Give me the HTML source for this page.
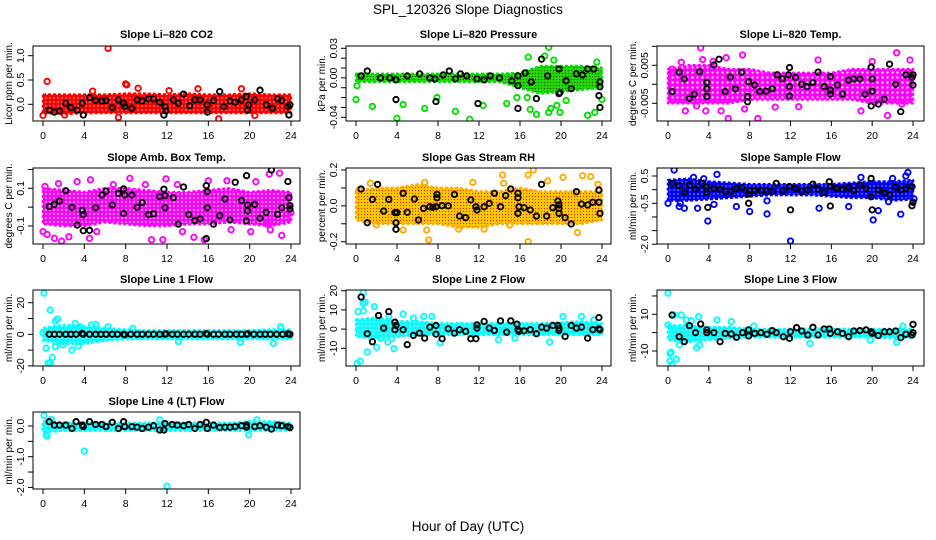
<!DOCTYPE html>
<html><head><meta charset="utf-8">
<style>
html,body{margin:0;padding:0;background:#fff;}
svg{display:block;font-family:"Liberation Sans",sans-serif;}
</style></head>
<body>
<svg id="chart" width="936" height="540" viewBox="0 0 936 540" xmlns="http://www.w3.org/2000/svg">
<rect width="936" height="540" fill="#fff"/>
<text x="468" y="14" text-anchor="middle" font-size="13.5">SPL_120326  Slope Diagnostics</text>
<text x="468" y="531" text-anchor="middle" font-size="13.5">Hour of Day (UTC)</text>
</svg>
<script>
const bandHours = [0,2,4,6,8,10,12,14,16,18,20,22,24];
const xTicks = [0,4,8,12,16,20,24];

const co2Hi = [0.2,0.2,0.2,0.2,0.22,0.22,0.2,0.22,0.2,0.2,0.22,0.2,0.2];
const co2Lo = [-0.18,-0.2,-0.18,-0.18,-0.18,-0.18,-0.18,-0.18,-0.18,-0.18,-0.18,-0.18,-0.18];
const co2Out = [[6.3,1.15],[0.4,0.47],[8,0.42],[8.1,0.4],[9.2,0.33],[15,0.32],[19.2,0.32],[0,-0.23],[7.3,-0.27],[17,-0.3],[20.5,-0.23],[2.1,-0.22],[4.8,0.27],[12.2,0.28]];
const co2Black = [[0.6,-0.12],[1.1,-0.16],[1.6,-0.14],[2.2,0.02],[2.7,-0.07],[3.3,-0.12],[3.8,0.02],[3.9,-0.22],[4.5,0.14],[5.1,0.08],[5.7,0.07],[6.1,0.08],[6.7,-0.07],[7.3,0.09],[7.8,0.02],[7.9,-0.05],[8.6,-0.08],[9.1,0.09],[9.6,0.07],[10.2,0.11],[10.7,0.11],[11.3,0.04],[11.8,-0.05],[11.7,-0.22],[11.9,-0.14],[12.6,0.09],[13.1,0.02],[13.6,0.21],[14.2,-0.03],[14.7,0.09],[15.2,0.09],[15.9,-0.01],[15.9,-0.16],[16.5,0.08],[17.1,0.26],[17.5,-0.05],[18.1,0.07],[18.6,0.04],[19.2,0.09],[19.7,0.16],[19.8,-0.12],[19.9,-0.01],[20.5,0.09],[21,0.29],[21.6,-0.01],[22.2,-0.08],[22.7,0.11],[23.1,0.08],[23.7,-0.05],[23.8,-0.22],[23.9,-0.01]];

const presHi = [0.004,0.004,0.004,0.004,0.004,0.004,0.004,0.004,0.005,0.012,0.012,0.012,0.01];
const presLo = [-0.004,-0.004,-0.004,-0.004,-0.004,-0.004,-0.004,-0.004,-0.01,-0.016,-0.014,-0.012,-0.01];
const presOut = [[0,-0.022],[1.6,-0.029],[4,-0.041],[4.6,-0.027],[6.7,-0.031],[9.7,-0.034],[11.1,-0.042],[12.4,-0.028],[14.7,-0.026],[18.8,0.031],[18.4,0.022],[19.3,0.018],[16.8,0.021],[17,-0.032],[17.6,-0.037],[18.8,-0.035],[19,-0.031],[19.6,-0.028],[19.9,-0.035],[20.5,-0.023],[22.6,-0.038],[23.3,-0.035],[23.5,0.016],[24,-0.022],[15.7,-0.02],[16.7,-0.02],[0.1,-0.008],[7.9,-0.02]];
const presBlack = [[0.5,0.002],[1.1,0.007],[2.4,0],[3.3,0],[3.9,-0.022],[3.9,-0.002],[5,0.002],[6.2,0.004],[7.2,0],[7.7,-0.001],[7.8,-0.024],[8.5,0.003],[9.1,0.007],[9.7,-0.001],[10.2,0.004],[10.8,0.002],[11.8,-0.001],[11.9,-0.026],[12.5,-0.002],[13.1,0.002],[14,0],[15.2,-0.003],[15.8,0.002],[15.8,-0.008],[15.8,-0.031],[16.5,0.005],[17.1,-0.004],[17.6,-0.021],[18.1,0.019],[18.7,0.002],[19.8,0.009],[19.8,-0.016],[19.9,-0.015],[20.5,-0.003],[21,-0.011],[21.5,0.004],[22.1,0.003],[22.6,0.009],[23.2,0.009],[23.8,-0.004],[23.8,-0.009],[23.7,-0.018],[23.8,-0.03]];

const ltHi = [0.004,0.005,0.005,0.004,0.004,0.003,0.003,0.003,0.003,0.004,0.004,0.004,0.004];
const ltLo = [-0.005,-0.005,-0.005,-0.005,-0.004,-0.004,-0.004,-0.004,-0.004,-0.004,-0.005,-0.005,-0.005];
const ltOut = [[3.2,0.0096],[1.7,-0.007],[2.8,-0.0057],[3.7,-0.007],[5.2,-0.007],[5.9,-0.009],[7.5,-0.0065],[8.8,-0.009],[7.3,0.0077],[1.3,0.0058],[14.7,0.0064],[18.9,-0.007],[21.5,-0.0082],[22.4,0.0083],[23.7,0.0064],[22.9,-0.0052],[12.8,-0.0059],[10.5,-0.006],[3.4,0.0065],[5.7,0.007],[0.4,0.004],[4.4,0.006],[20,0.006]];
const ltBlack = [[0.4,-0.0019],[1.1,0.0032],[1.6,0.0014],[2.1,-0.0037],[2.6,-0.0026],[3.1,0.0033],[3.8,0.0005],[3.8,-0.0012],[3.8,-0.0032],[4.5,0.0051],[5,0.0066],[5.6,-0.0019],[6.1,0.0019],[6.6,-0.0012],[7.2,0.0032],[7.9,0.0007],[7.8,-0.0032],[7.8,-0.0046],[8.5,-0.0002],[9,-0.0019],[9.6,-0.0018],[10.2,-0.0012],[10.7,0.0025],[11.2,0.0014],[11.8,0.0025],[11.9,0.0044],[11.9,-0.0006],[11.9,-0.0031],[12.5,0.0018],[13.1,0],[13.6,-0.0006],[14.2,0.0005],[14.7,0.0032],[15.3,-0.0006],[15.9,0.002],[15.9,-0.0015],[15.9,-0.0026],[16.6,-0.0002],[17.1,-0.0026],[17.7,0.0011],[18.2,0.0014],[18.8,0.0014],[19.3,-0.0026],[19.9,0.0045],[20,0.0014],[20,-0.0018],[19.9,-0.0057],[20.6,-0.0052],[21.2,-0.0039],[21.7,0.0053],[22.3,0],[22.8,-0.0072],[23.3,0.0025],[23.9,0.0018],[24,0.0025],[24,-0.0002]];

const boxHi = [0.1,0.09,0.08,0.1,0.1,0.09,0.08,0.08,0.09,0.1,0.08,0.09,0.08];
const boxLo = [-0.09,-0.1,-0.1,-0.08,-0.09,-0.1,-0.1,-0.09,-0.09,-0.08,-0.09,-0.1,-0.08];
const boxOut = [[0,-0.13],[0.4,-0.145],[1.1,-0.165],[1.8,-0.18],[2.5,-0.157],[3.3,0.135],[4.6,0.145],[4.5,-0.165],[5.2,-0.13],[8.4,0.153],[10.5,-0.173],[11.9,0.15],[11.6,-0.173],[13.5,-0.13],[15.6,-0.173],[16,0.14],[17.8,0.14],[20.1,-0.13],[20.6,0.135],[21.9,0.175],[22.9,0.18],[23.1,-0.15],[21.7,-0.09],[14.6,-0.16],[0.2,0.11],[1.5,0.125],[6.8,0.12],[9.9,0.12],[13,0.12],[18.2,-0.12],[22,-0.12],[24,-0.03]];
const boxBlack = [[0.6,0.003],[1.1,0.015],[1.6,0.033],[2.2,0.087],[2.8,-0.001],[3.3,-0.095],[3.8,-0.017],[3.9,-0.04],[3.9,-0.125],[4.5,-0.123],[5.1,-0.003],[5.7,0.064],[6.1,0.085],[6.7,0.012],[7.3,0.073],[7.8,-0.033],[7.8,0.097],[7.9,0.064],[8.6,0.064],[9.1,-0.001],[9.6,0.024],[10.2,-0.04],[10.7,-0.035],[11.3,0.056],[11.7,0.095],[11.8,0.061],[11.8,-0.003],[12.6,0.05],[13.1,-0.09],[13.6,0.107],[14.1,-0.04],[14.7,-0.07],[15.2,-0.063],[15.8,0.114],[15.9,0.082],[15.9,-0.003],[15.8,-0.167],[16.5,-0.09],[17.1,-0.045],[17.6,0.043],[18.1,-0.068],[18.6,0.132],[19.2,0.036],[19.7,0.167],[19.7,-0.073],[19.8,0.012],[19.8,-0.02],[20.5,0.015],[21,-0.059],[21.6,-0.028],[22.1,0.197],[22.7,-0.038],[23.1,-0.003],[23.7,0.136],[23.8,0.05],[23.9,0.008],[23.9,-0.01]];

const rhHi = [0.08,0.1,0.1,0.12,0.1,0.1,0.08,0.08,0.1,0.08,0.08,0.08,0.08];
const rhLo = [-0.08,-0.1,-0.1,-0.1,-0.1,-0.12,-0.12,-0.1,-0.1,-0.1,-0.1,-0.1,-0.08];
const rhOut = [[1.4,0.126],[2,-0.107],[6.7,0.131],[6.9,-0.135],[7.1,-0.19],[11.4,0.131],[14.3,0.172],[14.4,0.126],[16.8,0.172],[17.3,0.2],[16.8,-0.2],[18.7,0.139],[20.2,0.159],[21.6,-0.149],[22.1,0.168],[22.9,0.163],[4.6,-0.135],[15,-0.107],[0.3,0.09],[10,-0.13],[12.5,-0.13],[23.6,0.12]];
const rhBlack = [[0.5,0.094],[1.1,-0.094],[1.6,0.036],[2.1,0.12],[2.7,-0.029],[3.2,0.036],[3.8,-0.038],[3.9,-0.094],[3.9,-0.131],[4,-0.038],[4.6,0.07],[5,-0.036],[5.7,0.038],[6.1,-0.079],[6.6,-0.014],[7.2,-0.005],[7.5,-0.008],[7.8,-0.005],[7.9,0.045],[7.9,0.064],[8.4,0.001],[9,0],[9.6,0.064],[10.1,-0.057],[10.7,-0.066],[11.2,0.033],[11.7,-0.005],[11.8,-0.023],[12.5,-0.005],[13,0.014],[13.5,0.07],[14.1,-0.005],[14.6,0.057],[15.1,0.094],[15.8,0.07],[15.8,0.045],[15.8,-0.042],[15.9,-0.005],[16.4,-0.01],[17,-0.023],[17.6,-0.057],[18.1,0.12],[18.6,-0.057],[19.2,-0.01],[19.7,0.027],[19.8,0.005],[19.8,-0.014],[19.8,-0.042],[20.4,-0.066],[21,-0.101],[21.5,0.079],[22,0.01],[22.6,0.005],[23.1,0.02],[23.7,0.02],[23.7,0.088],[23.8,-0.042]];

const sfHi = [0.35,0.4,0.3,0.25,0.2,0.2,0.2,0.2,0.2,0.25,0.3,0.3,0.35];
const sfLo = [-0.4,-0.4,-0.35,-0.3,-0.25,-0.2,-0.2,-0.2,-0.25,-0.3,-0.3,-0.4,-0.35];
const sfOut = [[0,-0.5],[0.6,0.72],[1.1,-0.62],[1.6,-0.68],[2.9,-0.68],[3.9,-1.15],[4.5,-0.54],[4.8,0.56],[6.7,-0.62],[8,-0.8],[9.7,-0.89],[9.7,-0.41],[12,-1.88],[14.8,-0.68],[17.7,-0.62],[18.9,0.45],[20.1,-1.11],[20.6,-0.77],[21.6,-0.44],[22.8,-0.9],[23.5,0.63],[23.3,0.5],[24.1,-0.34],[22,0.41],[2.5,0.45],[3.5,0.4],[1.2,-0.5]];
const sfBlack = [[0.4,0.23],[1.1,0.15],[1.6,-0.1],[2.1,0.17],[2.7,0.02],[3.3,0.23],[3.8,0.09],[3.8,-0.1],[3.9,-0.65],[4.5,0.05],[5.1,0.02],[5.6,-0.07],[6.2,-0.07],[6.7,0.05],[7.3,0.07],[7.9,-0.16],[7.9,-0.5],[8,-0.04],[8.5,-0.04],[9.1,-0.04],[9.7,-0.05],[10.2,-0.07],[10.6,0.23],[11.3,-0.05],[11.9,0.11],[12,-0.74],[12.5,0.05],[13.1,-0.07],[13.7,-0.01],[14.2,0.2],[14.7,0.02],[15.3,-0.1],[15.8,0.29],[15.9,0.11],[15.9,-0.6],[16.5,0.05],[17.1,0.02],[17.7,0.07],[18.2,-0.04],[18.8,0.17],[19.4,0.05],[19.9,0.41],[19.9,-0.26],[20,-0.74],[20.6,-0.01],[21.2,-0.11],[21.7,-0.2],[22.3,0.09],[22.8,-0.01],[23.3,0.05],[23.9,0.11],[24,-0.46],[23.9,-0.59]];

const l1Hi = [4,6,5,4,3,2.5,2.5,2.5,2.5,2.5,2.5,3,3];
const l1Lo = [-4,-6,-6,-4,-3,-3,-3,-3,-3,-3,-3,-3,-3];
const l1Out = [[0.1,26],[0.7,15.4],[0.3,-8.8],[0.5,-18.3],[0.7,-17.9],[0.9,-14.7],[1.2,-7.8],[1.2,8.4],[1.4,9.7],[1.9,-6.7],[2.8,-9.9],[3.1,6.9],[3.4,-7.4],[3.6,4.8],[4.7,5.9],[5.1,6.3],[6.3,4.8],[8.7,3.8],[13.1,-4.6],[19.1,-5.1],[22.3,-5.7],[23,4.8],[0,1]];
const l1Black = [[0.6,0],[1.1,0],[1.6,0],[2.2,0],[2.7,0],[3.2,0],[3.8,0.5],[3.9,0],[4.5,0],[5.1,0],[5.6,0],[6.1,0],[6.7,0],[7.2,0],[7.8,0],[7.9,-0.3],[8.5,0],[9.1,0],[9.6,0],[10.2,0],[10.7,0],[11.3,0],[11.8,0],[11.9,0.3],[12.5,0],[13,0],[13.6,0],[14.1,0],[14.7,0],[15.2,0],[15.8,0.4],[15.9,0],[16.5,0],[17,0],[17.6,0],[18.1,0],[18.7,0],[19.2,0],[19.7,0],[19.8,0.3],[20.4,0],[21,0],[21.5,0],[22,0],[22.6,0],[23.2,0],[23.7,0.3],[23.9,0]];

const l2Hi = [5,6,4,4,3,3,3,3,3,3,3.5,4,3];
const l2Lo = [-4,-5,-4,-3,-3,-3,-3,-3,-3,-3,-3,-3,-3];
const l2Out = [[0.1,-18],[0.4,-16.7],[0.7,19.1],[0.7,13.4],[0.9,14],[0.7,9.5],[1.1,-11.9],[0.2,9.1],[1.8,11.7],[2,-9.5],[2.4,-4.7],[3.1,-6.7],[3.5,-5],[3.7,-10.2],[3.2,6.6],[4.6,7.8],[5.6,5.7],[6.6,6.6],[7.4,6.6],[8.2,-7.2],[13.9,-5.5],[15.5,-4.7],[18.9,-6.7],[20.2,6.6],[22,6.6],[23.2,4.8]];
const l2Black = [[0.5,16.7],[1.1,-2.4],[1.6,-6.6],[2.2,7.1],[2.7,0.5],[3.2,9.1],[3.8,3.6],[3.8,-0.3],[3.9,1.9],[4.6,-0.3],[5,-8.1],[5.6,-3.3],[6.2,-2.1],[6.7,-4.7],[7.2,1],[7.8,1.9],[7.8,-2.6],[8.4,-5],[9,0.2],[9.6,-2.1],[10.1,-0.3],[10.7,-1.2],[11.2,-5],[11.7,-5],[11.8,2.2],[11.8,0.5],[12.5,4],[13,0.5],[13.5,-0.7],[14.1,4.3],[14.7,-1.6],[15.1,4.3],[15.7,2.6],[15.8,-0.3],[15.9,-1.2],[16.4,-0.9],[17,-0.3],[17.6,-2.4],[18.1,1],[18.6,0.5],[19.2,1.9],[19.7,1.9],[19.8,0.5],[19.8,-0.7],[20.4,-3.8],[21,1.9],[21.5,0.5],[22,1],[22.6,-4.7],[23.1,-0.3],[23.7,6],[23.7,0.2],[23.8,-0.3]];

const l3Hi = [4,4,3,3,2,2,2,2,2,2,2,2,2];
const l3Lo = [-4,-5,-4,-3,-2.5,-2.5,-2.5,-2.5,-2.5,-2.5,-2.5,-3,-2.5];
const l3Out = [[0,21.5],[0,4.2],[0.2,-11.3],[0.3,-10.7],[0.2,-15.5],[0.4,-17.3],[0.8,-14.4],[1.1,-6.7],[0.6,9.6],[1.3,9.6],[1.8,6.9],[2.3,6.5],[2.8,-8.2],[3.1,-6.7],[3,8.7],[4.8,6.9],[6.2,6],[8.4,3.6],[13.9,-5.8],[19.8,-4],[22.4,-5.3],[23,3.6]];
const l3Black = [[0.4,9.6],[1.1,-2.2],[1.6,-4.9],[2.1,3.8],[2.7,0],[3.2,4.7],[3.8,1.5],[3.8,0],[4.5,0],[5.1,-4.9],[5.6,-0.4],[6.2,-0.7],[6.7,-2.5],[7.3,0],[7.9,1.5],[7.9,-1.8],[8.5,-0.4],[9.1,0],[9.7,-0.9],[10.2,1.1],[10.6,0],[11.3,-2.2],[11.9,-3.1],[12,0.5],[12.6,2.7],[13.1,0.9],[13.7,-1.3],[14.2,2.9],[14.7,-1.3],[15.3,2],[15.8,2],[15.9,-0.4],[16.6,0.5],[17.1,-0.4],[17.7,-2.2],[18.2,0.9],[18.8,1.1],[19.4,1.5],[19.9,0.5],[20,-0.4],[20.6,-1.6],[21.2,0.5],[21.7,0.5],[22.3,0.9],[22.8,-2.7],[23.3,-0.9],[23.9,-1.3],[24,4.5],[24,0]];

const l4Hi = [0.15,0.1,0.1,0.1,0.1,0.1,0.1,0.1,0.1,0.1,0.15,0.15,0.1];
const l4Lo = [-0.2,-0.15,-0.15,-0.15,-0.15,-0.15,-0.15,-0.15,-0.15,-0.15,-0.15,-0.15,-0.15];
const l4Out = [[0.1,0.34],[0.3,-0.29],[0.4,-0.33],[0.8,0.22],[4,-0.82],[12,-1.96],[19.9,-0.29],[11.3,0.2],[20.7,0.2]];
const l4Black = [[0.6,0.14],[1.1,0.03],[1.6,0.03],[2.2,0.03],[2.8,-0.08],[3.2,0.14],[3.8,0.03],[3.9,-0.02],[4.5,0.14],[5.1,0.05],[5.7,0.05],[6.1,-0.02],[6.7,0.12],[7.3,-0.08],[7.8,0.14],[7.9,-0.02],[8.6,-0.02],[9.1,-0.04],[9.6,-0.08],[10.2,-0.04],[10.7,0.01],[11.3,-0.13],[11.7,-0.13],[11.8,0.08],[12.5,0.05],[13,0.03],[13.6,0.01],[14.1,0.05],[14.7,-0.08],[15.2,0.05],[15.8,0.12],[15.9,-0.08],[16.5,0.03],[17.1,-0.05],[17.6,-0.04],[18.1,-0.04],[18.6,-0.02],[19.2,0.01],[19.7,0.03],[19.7,-0.04],[20.5,-0.02],[21,0.01],[21.6,-0.04],[22.1,-0.1],[22.7,0.03],[23.1,0.01],[23.7,-0.02],[23.9,-0.05]];

const p1Ticks=[0,0.5,1.0], p1Labels=["0.0","0.5","1.0"];
const p2Ticks=[0.03,0.02,0.01,0,-0.01,-0.02,-0.03,-0.04], p2Labels=["0.03","","","0.00","","","","-0.04"];
const p3Ticks=[0.01,0.005,0,-0.005], p3Labels=["","0.005","","-0.005"];
const p4Ticks=[0.2,0.1,0,-0.1], p4Labels=["","0.1","","-0.1"];
const p5Ticks=[0.2,0.1,0,-0.1,-0.2], p5Labels=["0.2","","0.0","","-0.2"];
const p6Ticks=[0.5,0,-0.5,-1,-1.5,-2], p6Labels=["0.5","","-0.5","","","-2.0"];
const p7Ticks=[20,10,0,-10,-20], p7Labels=["20","","0","","-20"];
const p8Ticks=[20,10,0,-10], p8Labels=["20","10","0","-10"];
const p9Ticks=[20,10,0,-10], p9Labels=["","10","","-10"];
const p10Ticks=[0,-0.5,-1,-1.5,-2], p10Labels=["0.0","","-1.0","","-2.0"];

const NS="http://www.w3.org/2000/svg";
const svg=document.getElementById('chart');
const COLS=[{b0:33,b1:300,h0:43,h24:291},{b0:346,b1:611,h0:356,h24:602},{b0:657,b1:924,h0:668,h24:913}];
const ROWS=[{y0:46,y1:121,t:38},{y0:168,y1:244,t:161},{y0:290,y1:366,t:283},{y0:412,y1:489,t:405}];
function mk(tag,attrs,parent){const e=document.createElementNS(NS,tag);for(const k in attrs)e.setAttribute(k,attrs[k]);(parent||svg).appendChild(e);return e;}
const defs=mk('defs',{});
function pattern(id,bg,dot,size){
 const p=mk('pattern',{id:id,width:size,height:size,patternUnits:'userSpaceOnUse'},defs);
 mk('rect',{width:size,height:size,fill:bg},p);
 mk('circle',{cx:size/2,cy:size/2,r:size*0.22,fill:dot},p);
 return 'url(#'+id+')';
}

const panels=[
 {key:'co2',title:'Slope Li–820 CO2',ylab:'Licor ppm per min.',c:0,r:0,v1:1,p1:55.7,v2:0,p2:104.3,hi:co2Hi,lo:co2Lo,out:co2Out,blk:co2Black,ticks:p1Ticks,labels:p1Labels,color:'#ff0000',bg:'#ff0000',dot:'#ff9090',ps:4},
 {key:'pressure',title:'Slope Li–820 Pressure',ylab:'kPa per min.',c:1,r:0,v1:0.03,p1:48.3,v2:-0.04,p2:117.3,hi:presHi,lo:presLo,out:presOut,blk:presBlack,ticks:p2Ticks,labels:p2Labels,color:'#00e000',bg:'#22dd00',dot:'#104000',ps:3},
 {key:'licor-temp',title:'Slope Li–820 Temp.',ylab:'degrees C per min.',c:2,r:0,v1:0.005,p1:65.3,v2:-0.005,p2:103.3,hi:ltHi,lo:ltLo,out:ltOut,blk:ltBlack,ticks:p3Ticks,labels:p3Labels,color:'#ff00ff',bg:'#ff00ff',dot:'#ffffff',ps:5},
 {key:'box-temp',title:'Slope Amb. Box Temp.',ylab:'degrees C per min.',c:0,r:1,v1:0.1,p1:188.3,v2:-0.1,p2:226,hi:boxHi,lo:boxLo,out:boxOut,blk:boxBlack,ticks:p4Ticks,labels:p4Labels,color:'#ff00ff',bg:'#ff00ff',dot:'#ffffff',ps:4},
 {key:'gas-rh',title:'Slope Gas Stream RH',ylab:'percent per min.',c:1,r:1,v1:0.2,p1:170,v2:-0.2,p2:241.7,hi:rhHi,lo:rhLo,out:rhOut,blk:rhBlack,ticks:p5Ticks,labels:p5Labels,color:'#ffaa00',bg:'#ffcc00',dot:'#ee2200',ps:3},
 {key:'sample-flow',title:'Slope Sample Flow',ylab:'ml/min per min.',c:2,r:1,v1:0.5,p1:176,v2:-0.5,p2:203.3,hi:sfHi,lo:sfLo,out:sfOut,blk:sfBlack,ticks:p6Ticks,labels:p6Labels,color:'#0000ff',bg:'#0000ff',dot:'#8080ff',ps:4},
 {key:'line1-flow',title:'Slope Line 1 Flow',ylab:'ml/min per min.',c:0,r:2,v1:20,p1:302.7,v2:0,p2:334.3,hi:l1Hi,lo:l1Lo,out:l1Out,blk:l1Black,ticks:p7Ticks,labels:p7Labels,color:'#00ffff',bg:'#00ffff',dot:'#b0ffff',ps:4},
 {key:'line2-flow',title:'Slope Line 2 Flow',ylab:'ml/min per min.',c:1,r:2,v1:20,p1:290.7,v2:-10,p2:348.3,hi:l2Hi,lo:l2Lo,out:l2Out,blk:l2Black,ticks:p8Ticks,labels:p8Labels,color:'#00ffff',bg:'#00ffff',dot:'#b0ffff',ps:4},
 {key:'line3-flow',title:'Slope Line 3 Flow',ylab:'ml/min per min.',c:2,r:2,v1:10,p1:314.3,v2:-10,p2:351,hi:l3Hi,lo:l3Lo,out:l3Out,blk:l3Black,ticks:p9Ticks,labels:p9Labels,color:'#00ffff',bg:'#00ffff',dot:'#b0ffff',ps:4},
 {key:'line4-flow',title:'Slope Line 4 (LT) Flow',ylab:'ml/min per min.',c:0,r:3,v1:0,p1:426,v2:-1,p2:456.7,hi:l4Hi,lo:l4Lo,out:l4Out,blk:l4Black,ticks:p10Ticks,labels:p10Labels,color:'#00ffff',bg:'#00ffff',dot:'#b0ffff',ps:4}
];

panels.forEach((p,i)=>{
 const C=COLS[p.c],R=ROWS[p.r];
 const xs=h=>C.h0+h*(C.h24-C.h0)/24;
 const ys=v=>p.p1+(v-p.v1)*(p.p2-p.p1)/(p.v2-p.v1);
 const fillUrl=pattern('pat'+i,p.bg,p.dot,p.ps);
 const g=mk('g',{});
 
 
 const clip=mk('clipPath',{id:'clip'+i},g);
 mk('rect',{x:C.b0,y:R.y0,width:C.b1-C.b0,height:R.y1-R.y0},clip);
 const pg=mk('g',{'clip-path':'url(#clip'+i+')'},g);
 let pts=bandHours.map((h,k)=>xs(h)+','+ys(p.hi[k]));
 pts=pts.concat(bandHours.slice().reverse().map((h,k)=>xs(h)+','+ys(p.lo[bandHours.length-1-k])));
 const band=mk('polygon',{points:pts.join(' '),fill:fillUrl,stroke:p.color,'stroke-width':2.5,'stroke-dasharray':'3 2','stroke-linejoin':'round'},pg);
 
 
 p.out.forEach(d=>{
  const c=mk('circle',{cx:xs(d[0]),cy:ys(d[1]),r:2.7,fill:'none',stroke:p.color,'stroke-width':1.9},pg);
  
  
 });
 p.blk.forEach(d=>{
  const c=mk('circle',{cx:xs(d[0]),cy:ys(d[1]),r:2.7,fill:'none',stroke:'#000','stroke-width':1.9},pg);
  
  
 });
 const box=mk('rect',{x:C.b0,y:R.y0,width:C.b1-C.b0,height:R.y1-R.y0,fill:'none',stroke:'#000','stroke-width':1},g);
 
 
 const t=mk('text',{x:(C.b0+C.b1)/2,y:R.t,'text-anchor':'middle','font-size':11,'font-weight':'bold'},g);
 t.textContent=p.title;
 
 
 mk('line',{x1:xs(0),x2:xs(24),y1:R.y1,y2:R.y1,stroke:'#000'},g);
 xTicks.forEach(h=>{
  mk('line',{x1:xs(h),x2:xs(h),y1:R.y1,y2:R.y1+5,stroke:'#000'},g);
  const tl=mk('text',{x:xs(h),y:R.y1+18,'text-anchor':'middle','font-size':10.5},g);
  tl.textContent=h;
  
  
 });
 const yv=p.ticks.map(ys);
 mk('line',{x1:C.b0,x2:C.b0,y1:Math.min(...yv),y2:Math.max(...yv),stroke:'#000'},g);
 p.ticks.forEach((v,k)=>{
  const y=ys(v);
  mk('line',{x1:C.b0-5,x2:C.b0,y1:y,y2:y,stroke:'#000'},g);
  if(p.labels[k]){
   const yl=mk('text',{x:0,y:0,'text-anchor':'middle','font-size':10.5,transform:'translate('+(C.b0-9)+','+y+') rotate(-90)'},g);
   yl.textContent=p.labels[k];
   
   
  }
 });
 const ya=mk('text',{x:0,y:0,'text-anchor':'middle','font-size':10,transform:'translate('+(C.b0-21)+','+((R.y0+R.y1)/2)+') rotate(-90)'},g);
 ya.textContent=p.ylab;
 
 
});
</script>
</body></html>
